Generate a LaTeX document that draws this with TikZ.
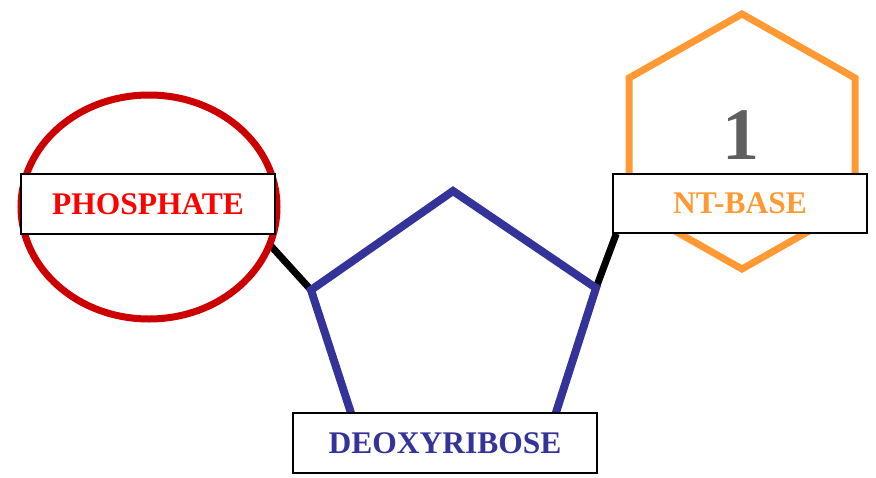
\documentclass[tikz,border=0pt]{standalone}
\usepackage{fontspec}
\setmainfont{Liberation Serif}
\usetikzlibrary{shapes.geometric}
\pgfdeclarelayer{bondlayer}
\pgfdeclarelayer{shapelayer}
\pgfsetlayers{bondlayer,shapelayer,main}
\definecolor{phosred}{HTML}{CC0000}
\definecolor{txtred}{HTML}{FF0000}
\definecolor{sugarblue}{HTML}{333399}
\definecolor{baseorange}{HTML}{FF9933}
\definecolor{numgray}{HTML}{5F5F5F}
\tikzset{
  labelbox/.style={draw=black, line width=1.5pt, fill=white, inner sep=0pt,
    font=\fontsize{31.5}{31.5}\selectfont\bfseries},
  bond/.style={draw=black, line width=7pt},
}
\begin{document}
\begin{tikzpicture}[x=1pt,y=-1pt]
\useasboundingbox (0,0) rectangle (876,477);
% pentagon vertices
\coordinate (p0) at (453,191);
\coordinate (p1) at (596,288);
\coordinate (p2) at (542,456);
\coordinate (p3) at (365,456);
\coordinate (p4) at (311,290);
% hexagon vertices
\coordinate (h0) at (742,14);
\coordinate (h1) at (855,78);
\coordinate (h2) at (855,205);
\coordinate (h3) at (742,269);
\coordinate (h4) at (629,205);
\coordinate (h5) at (629,78);
\coordinate (c1) at (271,246);
% label boxes
\node[labelbox, minimum width=254, minimum height=60, text=txtred] (phl) at (148,204) {PHOSPHATE};
\node[labelbox, minimum width=254, minimum height=59, text=baseorange] (ntl) at (740,203.5) {NT-BASE};
\node[labelbox, minimum width=304, minimum height=60, text=sugarblue] (deo) at (445,443) {DEOXYRIBOSE};
\begin{pgfonlayer}{shapelayer}
\node[ellipse, draw=phosred, line width=7pt, minimum width=256, minimum height=224] (phos) at (149,207) {};
\draw[baseorange, line width=7pt, line join=miter] (h0) -- (h1) -- (h2) -- (h3) -- (h4) -- (h5) -- cycle;
\draw[sugarblue, line width=8pt, line join=miter] (p0) -- (p1) -- (p2) -- (p3) -- (p4) -- cycle;
\node[text=numgray, font=\fontsize{74}{74}\selectfont\bfseries] (num) at (741,135) {1};
\end{pgfonlayer}
\begin{pgfonlayer}{bondlayer}
\draw[bond] (c1) -- (p4);
\draw[bond] ([xshift=4pt]ntl.south west) -- (p1);
\end{pgfonlayer}
\end{tikzpicture}
\end{document}
